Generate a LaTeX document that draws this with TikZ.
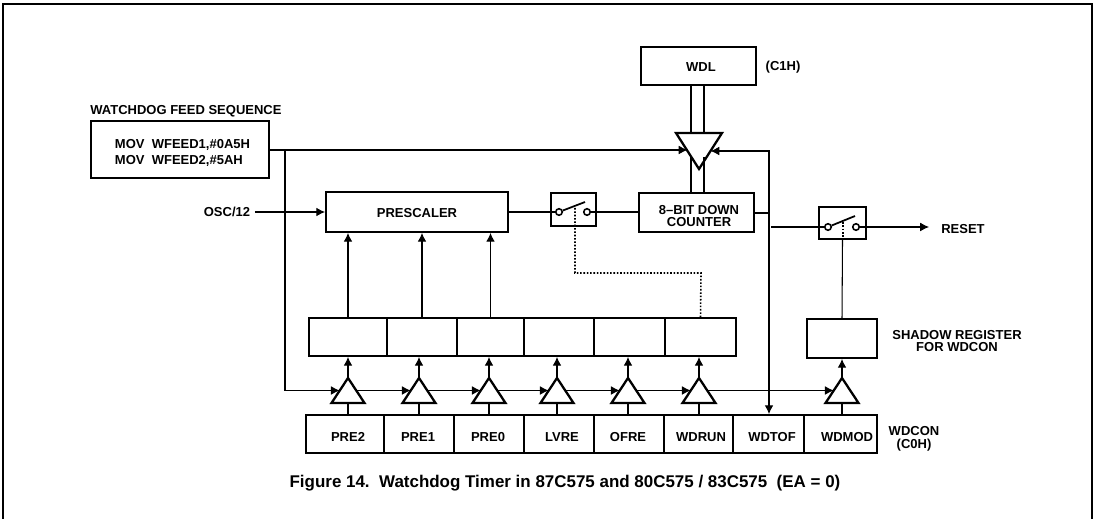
\documentclass[tikz,border=0pt]{standalone}
\usepackage{fontspec}
\setmainfont{Liberation Sans}
\usepackage{tikz}
\usetikzlibrary{shapes.geometric, arrows.meta}
\tikzset{
  regbox/.style={rectangle, draw=black, fill=white, line width=1.1pt, inner sep=0pt,
    align=center, font=\fontsize{7.4}{7.3}\selectfont\bfseries},
  swbox/.style={rectangle, draw=black, fill=white, line width=1.1pt, inner sep=0pt},
  contact/.style={circle, draw=black, fill=white, line width=0.9pt, inner sep=0pt, minimum size=0.13cm},
  buffer/.style={isosceles triangle, isosceles triangle stretches, draw=black, fill=white,
    line width=1.3pt, inner sep=0pt, outer sep=0pt, shape border rotate=90,
    minimum width=0.66cm, minimum height=0.5cm, anchor=apex},
  txt/.style={font=\fontsize{7.4}{7.3}\selectfont\bfseries, align=center, inner sep=0pt},
  arrow/.style={-{Latex[length=5pt,width=5pt]}, line width=0.6pt},
  line/.style={line width=0.6pt},
  dotline/.style={densely dotted, line width=0.9pt}
}
\begin{document}
\begin{tikzpicture}[x=0.02cm,y=-0.02cm]
  \useasboundingbox (0,0) rectangle (1094,519);
  \coordinate (frameA) at (3,519);
  \coordinate (frameB) at (3,4);
  \coordinate (frameC) at (1092,4);
  \coordinate (frameD) at (1092,519);
  \draw[line width=1.1pt] (frameA) -- (frameB) -- (frameC) -- (frameD);

  % top blocks
  \node[regbox, minimum width=2.3cm, minimum height=0.76cm] (wdl) at (698.5,66) {};
  \node[txt] (wdltxt) at (701,67) {WDL};
  \node[txt] (wdladdr) at (783,67) {(C1H)};
  \node[buffer, shape border rotate=270, minimum width=0.92cm, minimum height=0.72cm] (invbuf) at (699,169) {};
  \node[regbox, minimum width=2.3cm, minimum height=0.78cm] (counter) at (696.5,212.5) {};
  \node[txt] (countertxt) at (699,216) {8--BIT DOWN\\COUNTER};
  \draw[line] ([xshift=-0.15cm]wdl.south) -- ++(0,48);
  \draw[line] ([xshift=0.11cm]wdl.south) -- ++(0,48);
  \draw[line] ([xshift=-0.11cm]counter.north) -- ++(0,-35);
  \draw[line] ([xshift=0.15cm]counter.north) -- ++(0,-35);

  \node[txt, anchor=west] (feedtitle) at (90,111) {WATCHDOG FEED SEQUENCE};
  \node[regbox, minimum width=3.56cm, minimum height=1.14cm] (feed) at (180,149.5) {};
  \node[txt, font=\fontsize{7.4}{8.9}\selectfont\bfseries, align=left] (feedtxt) at (182.5,153)
    {MOV\ \ WFEED1,\#0A5H\\MOV\ \ WFEED2,\#5AH};
  \node[txt] (osc) at (227,212) {OSC/12};
  \node[regbox, minimum width=3.64cm, minimum height=0.8cm] (presc) at (417,212) {};
  \node[txt] (presctxt) at (417,213) {PRESCALER};

  % switches
  \node[swbox, minimum width=0.9cm, minimum height=0.66cm] (swa) at (573.5,209.5) {};
  \node[contact] (swaL) at (559,212) {};
  \node[contact] (swaR) at (587,212) {};
  \coordinate (armA) at (585,202);
  \coordinate (dotA) at (575,208);
  \node[swbox, minimum width=0.94cm, minimum height=0.64cm] (swb) at (842.5,223) {};
  \node[contact] (swbL) at (828,227) {};
  \node[contact] (swbR) at (856,227) {};
  \coordinate (armB) at (855,216);
  \coordinate (dotB) at (843,222);
  \draw[line width=1pt] (swaL) -- (armA);
  \draw[line width=1pt] (swbL) -- (armB);

  % register rows
  \foreach \i/\cx/\w in {1/348/78,2/422/70,3/490.5/67,4/559/70,5/629.5/71,6/700.5/71}
    \node[regbox, minimum width=\w*0.02cm, minimum height=0.76cm] (up\i) at (\cx,337) {};
  \node[regbox, minimum width=1.4cm, minimum height=0.78cm] (shadow) at (842,338.5) {};
  \foreach \i/\cx/\w/\tx/\lab in {1/345/78/348/PRE2,2/419/70/418/PRE1,3/489/70/488/PRE0,4/559/70/562/LVRE,
      5/629/70/628/OFRE,6/698.5/69/701/WDRUN,7/768.5/71/772/WDTOF,8/840.5/73/847/WDMOD} {
    \node[regbox, minimum width=\w*0.02cm, minimum height=0.76cm] (low\i) at (\cx,434) {};
    \node[txt] (lab\i) at (\tx,437) {\lab};
  }
  \foreach \i/\cx in {1/348,2/419,3/489,4/557,5/628,6/699,7/842}
    \node[buffer] (tri\i) at (\cx,378) {};

  % labels on the right
  \node[txt] (resettxt) at (963,229) {RESET};
  \node[txt] (shadowtxt) at (957,341) {SHADOW REGISTER\\FOR WDCON};
  \node[txt] (wdcontxt) at (914,439) {WDCON\\(C0H)};
  \node[font=\fontsize{9.65}{10}\selectfont\bfseries, inner sep=0pt] (caption) at (565,483)
    {Figure 14.\ \ Watchdog Timer in 87C575 and 80C575 / 83C575\ \ (EA = 0)};

  % connectors
  \coordinate (feedtap) at (285,150);
  \coordinate (toftap) at (769,213);
  \coordinate (resetin) at (771,227);
  \coordinate (resetout) at (929,227);
  \coordinate (dotC) at (701,273);
  \draw[arrow] (feed.east |- feedtap) -- (feedtap) -- (feedtap -| invbuf.right side);
  \draw[arrow] (feedtap) |- (tri1.left side);
  \draw[arrow, shorten <=2.5pt] (osc.east) -- (presc.west);
  \draw[line] (presc.east) -- (swaL);
  \draw[line] (swaR) -- (counter.west |- swaR);
  \draw[line] (counter.east |- toftap) -- (toftap);
  \draw[arrow] (toftap) |- (invbuf.left side);
  \draw[arrow] (toftap) -- (toftap |- low7.north);
  \draw[line] (resetin) -- (swbL);
  \draw[arrow] (swbR) -- (resetout);
  \draw[dotline] (dotA) |- (dotC) -- (up6.north);
  \draw[dotline] (dotB) -- (dotB |- swb.south);
  \draw[line] (swb.south) -- (shadow.north);
  \foreach \i in {1,2,3}
    \draw[arrow] (up\i.north) -- (up\i.north |- presc.south);
  \foreach \i in {1,...,6} {
    \draw[arrow] (tri\i.apex) -- (tri\i.apex |- up1.south);
    \draw[line] (tri\i.lower side) -- (tri\i.lower side |- low1.north);
  }
  \draw[arrow] (tri7.apex) -- (shadow.south);
  \draw[line] (tri7.lower side) -- (tri7.lower side |- low8.north);
  \foreach \a/\b in {1/2,2/3,3/4,4/5,5/6,6/7}
    \draw[arrow] (tri\a.right side) -- (tri\b.left side);
\end{tikzpicture}
\end{document}
